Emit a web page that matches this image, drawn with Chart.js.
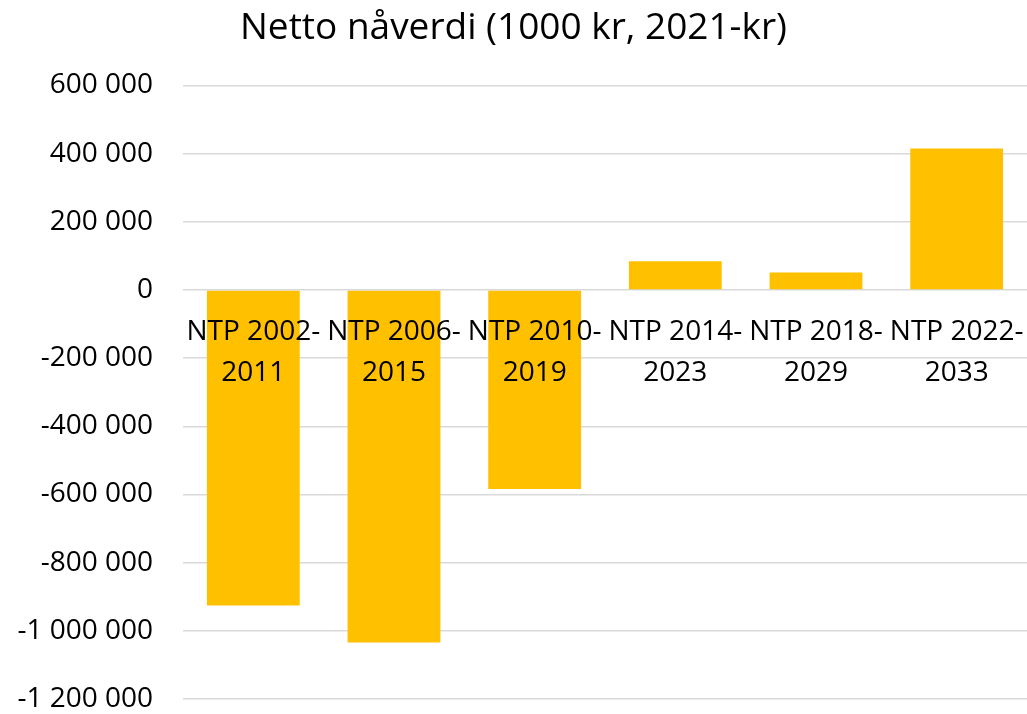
<!DOCTYPE html>
<html>
<head>
<meta charset="utf-8">
<script src="https://cdn.jsdelivr.net/npm/chart.js@4"></script>
<style>
html,body{margin:0;padding:0;background:#fff;}
#wrap{width:1027px;height:714px;position:relative;}
</style>
</head>
<body>
<div id="wrap"><canvas id="c"></canvas></div>
<script>
const titleText = 'Netto nåverdi (1000 kr, 2021-kr)';
const categories = [
  ['NTP 2002-', '2011'],
  ['NTP 2006-', '2015'],
  ['NTP 2010-', '2019'],
  ['NTP 2014-', '2023'],
  ['NTP 2018-', '2029'],
  ['NTP 2022-', '2033']
];
const nettoNaverdi = [-926000, -1034000, -584000, 84000, 51000, 415000];
const yMin = -1200000;
const yMax = 600000;
const yStep = 200000;

const FONT = "'Open Sans', 'DejaVu Sans', sans-serif";

function fmt(v) {
  const s = Math.abs(v).toString().replace(/\B(?=(\d{3})+(?!\d))/g, ' ');
  return (v < 0 ? '-' : '') + s;
}

new Chart(document.getElementById('c'), {
  type: 'bar',
  data: {
    labels: categories,
    datasets: [{
      data: nettoNaverdi,
      backgroundColor: '#FFC000',
      borderWidth: 0,
      barPercentage: 0.66,
      categoryPercentage: 1.0
    }]
  },
  options: {
    responsive: true,
    maintainAspectRatio: false,
    animation: false,
    layout: { padding: { top: 0, right: 0, bottom: 15, left: 0 } },
    plugins: {
      legend: { display: false },
      tooltip: { enabled: false },
      title: {
        display: true,
        text: titleText,
        color: '#000',
        font: { family: FONT, size: 37, weight: 'normal', lineHeight: 1.2 },
        padding: { top: 6, bottom: 35 }
      }
    },
    scales: {
      x: {
        position: { y: 0 },
        grid: { display: false, drawTicks: false },
        border: { display: false },
        ticks: {
          z: 1,
          color: '#000',
          maxRotation: 0,
          minRotation: 0,
          autoSkip: false,
          padding: 22,
          font: { family: FONT, size: 28, lineHeight: 1.45 }
        },
        afterFit: (s) => { s.height = 0; s.paddingLeft = 0; s.paddingRight = 0; }
      },
      y: {
        min: yMin,
        max: yMax,
        grid: { color: '#d9d9d9', lineWidth: 1.5, drawTicks: false },
        border: { display: false },
        ticks: {
          stepSize: yStep,
          color: '#000',
          padding: 30,
          font: { family: FONT, size: 28 },
          callback: (v) => fmt(v)
        },
        afterFit: (s) => { s.width = 183; s.paddingTop = 0; s.paddingBottom = 0; }
      }
    }
  }
});
</script>
</body>
</html>
